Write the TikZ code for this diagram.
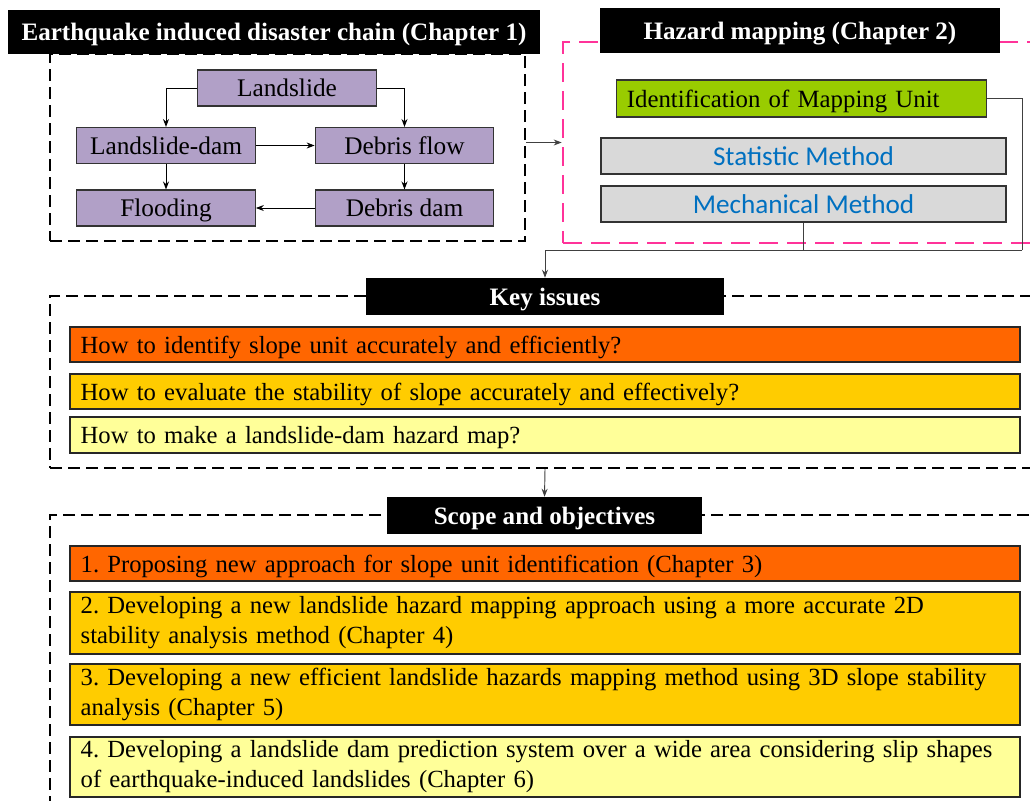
\documentclass[tikz,border=0pt]{standalone}
\usepackage{fontspec}
\setmainfont{Liberation Serif}
\newfontfamily\calfont{Carlito}
\usetikzlibrary{arrows.meta}
\definecolor{chainpurple}{HTML}{B1A0C7}
\definecolor{unitgreen}{HTML}{99CC00}
\definecolor{methodgray}{HTML}{D9D9D9}
\definecolor{methodblue}{HTML}{0070C0}
\definecolor{hot}{HTML}{FF6600}
\definecolor{warm}{HTML}{FFCC00}
\definecolor{pale}{HTML}{FFFF99}
\definecolor{hazardpink}{HTML}{FF3399}
\definecolor{linkgray}{HTML}{404040}
\frenchspacing
\tikzset{
  frame/.style={draw, line width=1.5pt, dash pattern=on 9pt off 4.5pt, inner sep=0pt},
  pinkframe/.style={draw=hazardpink, line width=2pt, dash pattern=on 14pt off 7pt, inner sep=0pt},
  titlebox/.style={fill=black, text=white, inner sep=0pt, text depth=0pt, font=\fontsize{18.8}{22}\selectfont\bfseries},
  chainbox/.style={draw=black!80, fill=chainpurple, line width=0.8pt, minimum width=134pt, minimum height=27pt, inner sep=0pt, text depth=0pt, font=\fontsize{19}{22}\selectfont},
  methodbox/.style={draw=black!80, fill=methodgray, line width=0.8pt, minimum width=303.75pt, minimum height=27pt, inner sep=0pt, text depth=0pt, text=methodblue, font=\calfont\fontsize{20.4}{24}\selectfont},
  itembox/.style={draw=black!85, line width=0.8pt, text width=696.5pt, inner xsep=8pt, inner ysep=0pt, align=left, font=\fontsize{18.5}{22.5}\selectfont},
  oneline/.style={itembox, text depth=0pt},
  twoline/.style={itembox},
  link/.style={draw=black, line width=0.7pt, -{Stealth[length=6pt,width=4.5pt]}},
  thinlink/.style={draw=linkgray, line width=0.7pt}
}
\begin{document}
\begin{tikzpicture}[x=0.75pt,y=-0.75pt]
\useasboundingbox (0,0) rectangle (1030,800);
\clip (0,0) rectangle (1030,800);

% ---------- dashed frames ----------
\node[frame, minimum width=356.25pt, minimum height=140.25pt] (f1) at (287.5,147.5) {};
\node[pinkframe, minimum width=357.75pt, minimum height=150.75pt] (f2) at (801.5,142.5) {};
\node[frame, minimum width=742.5pt, minimum height=129pt] (f3) at (545,382) {};
\node[frame, minimum width=742.5pt, minimum height=221.25pt] (f4) at (545,662.5) {};

% ---------- section titles ----------
\node[titlebox, minimum width=399pt, minimum height=33pt] (t1) at (274,32) {Earthquake induced disaster chain (Chapter 1)};
\node[titlebox, minimum width=300pt, minimum height=33.75pt] (t2) at (800,30.5) {Hazard mapping (Chapter 2)};
\node[titlebox, minimum width=268.5pt, minimum height=27.75pt] (kt) at (545,296.5) {Key issues};
\node[titlebox, minimum width=236.25pt, minimum height=27.75pt] (st) at (544.5,515.5) {Scope and objectives};

% ---------- disaster chain ----------
\node[chainbox] (ls) at (287,88) {Landslide};
\node[chainbox] (ld) at (166,145.5) {Landslide-dam};
\node[chainbox] (df) at (404.5,145.5) {Debris flow};
\node[chainbox] (fl) at (166,208) {Flooding};
\node[chainbox] (dd) at (404.5,208) {Debris dam};

\draw[link] (ls.west) -| (ld.north);
\draw[link] (ls.east) -| (df.north);
\draw[link] (ld.east) -- (df.west);
\draw[link] (ld.south) -- (fl.north);
\draw[link] (df.south) -- (dd.north);
\draw[link] (dd.west) -- (fl.east);

% ---------- hazard mapping ----------
\node[draw=black!80, fill=unitgreen, line width=0.8pt, minimum height=27.75pt, text width=262pt, inner xsep=8pt, inner ysep=0pt, text depth=0pt, align=left, font=\fontsize{18.6}{22}\selectfont] (id) at (801.5,98.5) {Identification of Mapping Unit};
\node[methodbox] (sm) at (803.5,156) {Statistic Method};
\node[methodbox] (mm) at (803.5,204) {Mechanical Method};

\draw[link, draw=linkgray] (f1.east |- f2.west) -- (f2.west);

% ---------- link down to key issues ----------
\coordinate (j) at (1022,250);
\draw[thinlink] (id.east) -| (j);
\draw[thinlink] (mm.south) -- (mm.south |- j);
\draw[link, draw=linkgray] (j) -| (kt.north);

% ---------- key issues ----------
\node[oneline, fill=hot, minimum height=26.25pt] (k1) at (545,344.5) {How to identify slope unit accurately and efficiently?};
\node[oneline, fill=warm, minimum height=26.25pt] (k2) at (545,391.5) {How to evaluate the stability of slope accurately and effectively?};
\node[oneline, fill=pale, minimum height=27pt] (k3) at (545,435) {How to make a landslide-dam hazard map?};

\draw[link, draw=linkgray] (f3.south) -- (st.north);

% ---------- scope and objectives ----------
\node[oneline, fill=hot, minimum height=26.25pt] (s1) at (545,563.5) {1. Proposing new approach for slope unit identification (Chapter 3)};
\node[twoline, fill=warm, minimum height=46.5pt] (s2) at (545,623) {2. Developing a new landslide hazard mapping approach using a more accurate 2D\\ stability analysis method (Chapter 4)};
\node[twoline, fill=warm, minimum height=45.75pt] (s3) at (545,694.5) {3. Developing a new efficient landslide hazards mapping method using 3D slope stability\\ analysis (Chapter 5)};
\node[twoline, fill=pale, minimum height=45pt] (s4) at (545,767) {4. Developing a landslide dam prediction system over a wide area considering slip shapes\\ of earthquake-induced landslides (Chapter 6)};
\end{tikzpicture}
\end{document}
